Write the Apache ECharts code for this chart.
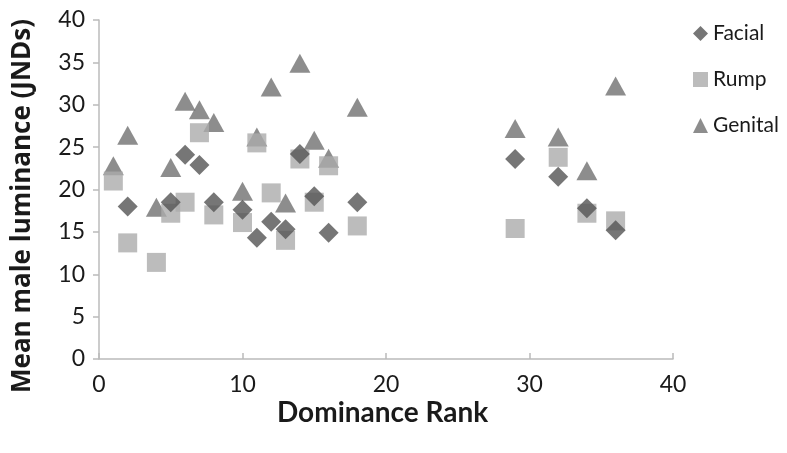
<!DOCTYPE html>
<html>
<head>
<meta charset="utf-8">
<script src="https://cdn.jsdelivr.net/npm/echarts@6/dist/echarts.min.js"></script>
<style>html,body{margin:0;padding:0;background:#fff}#c{width:787px;height:453px}</style>
</head>
<body>
<div id="c"></div>
<script>
const facialRank  = [2, 5, 6, 7, 8, 10, 11, 12, 13, 14, 15, 16, 18, 29, 32, 34, 36];
const facialValue = [18, 18.5, 24.1, 22.9, 18.5, 17.6, 14.3, 16.2, 15.3, 24.2, 19.2, 14.9, 18.5, 23.6, 21.5, 17.8, 15.2];
const rumpRank  = [1, 2, 4, 5, 6, 7, 8, 10, 11, 12, 13, 14, 15, 16, 18, 29, 32, 34, 36];
const rumpValue = [21, 13.7, 11.4, 17.2, 18.5, 26.7, 17, 16.1, 25.5, 19.6, 14, 23.6, 18.5, 22.8, 15.7, 15.4, 23.8, 17.2, 16.3];
const genitalRank  = [1, 2, 4, 5, 6, 7, 8, 10, 11, 12, 13, 14, 15, 16, 18, 29, 32, 34, 36];
const genitalValue = [22.8, 26.4, 17.9, 22.6, 30.4, 29.4, 27.9, 19.8, 26.2, 32.1, 18.4, 34.9, 25.8, 23.7, 29.7, 27.2, 26.2, 22.2, 32.2];
const yTicks = [0, 5, 10, 15, 20, 25, 30, 35, 40];
const xTicks = [0, 10, 20, 30, 40];
const xTitle = 'Dominance Rank';
const yTitle = 'Mean male luminance (JNDs)';

const pair = (xs, ys) => xs.map((x, i) => [x, ys[i]]);
const FONT = 'Lato';
const chart = echarts.init(document.getElementById('c'), null, {renderer: 'canvas'});
chart.setOption({
  animation: false,
  backgroundColor: '#fff',
  grid: {left: 99, right: 114, top: 20, bottom: 94},
  legend: {
    orient: 'vertical', left: 688, top: 18, itemGap: 25,
    itemWidth: 15, itemHeight: 15,
    textStyle: {fontFamily: FONT, fontSize: 21, color: '#1a1a1a'},
    data: [
      {name: 'Facial', icon: 'diamond', itemStyle: {color: '#545454'}},
      {name: 'Rump', icon: 'rect', itemStyle: {color: '#ababab'}},
      {name: 'Genital', icon: 'triangle', itemStyle: {color: '#707070'}}
    ]
  },
  graphic: [
    {type: 'text', left: 385 - 108, top: 399,
     style: {text: xTitle, fontFamily: FONT, fontSize: 28, fontWeight: 'bold', fill: '#1a1a1a'}},
    {type: 'text', rotation: Math.PI / 2, x: 10, y: 393,
     style: {text: yTitle, fontFamily: 'Open Sans', fontSize: 26, fontWeight: 'bold', fill: '#1a1a1a'}}
  ],
  xAxis: {
    type: 'value', min: xTicks[0], max: xTicks[xTicks.length - 1], interval: 10,
    axisLine: {lineStyle: {color: '#bbbbbb', width: 1.5}},
    axisTick: {inside: true, length: 6, lineStyle: {color: '#bbbbbb', width: 1.5}},
    axisLabel: {fontFamily: FONT, fontSize: 23, color: '#1a1a1a', margin: 14},
    splitLine: {show: false}
  },
  yAxis: {
    type: 'value', min: yTicks[0], max: yTicks[yTicks.length - 1], interval: 5,
    axisLine: {show: true, lineStyle: {color: '#bbbbbb', width: 1.5}},
    axisTick: {show: true, length: 6, lineStyle: {color: '#bbbbbb', width: 1.5}},
    axisLabel: {fontFamily: FONT, fontSize: 23, color: '#1a1a1a', margin: 14},
    splitLine: {show: false}
  },
  series: [
    {name: 'Genital', type: 'scatter', symbol: 'triangle', symbolSize: [21, 19], z: 1,
     itemStyle: {color: '#707070'}, data: pair(genitalRank, genitalValue)},
    {name: 'Rump', type: 'scatter', symbol: 'rect', symbolSize: 19, z: 2,
     itemStyle: {color: '#ababab'}, data: pair(rumpRank, rumpValue)},
    {name: 'Facial', type: 'scatter', symbol: 'diamond', symbolSize: 20, z: 3,
     itemStyle: {color: '#545454'}, data: pair(facialRank, facialValue)}
  ]
});
</script>
</body>
</html>
